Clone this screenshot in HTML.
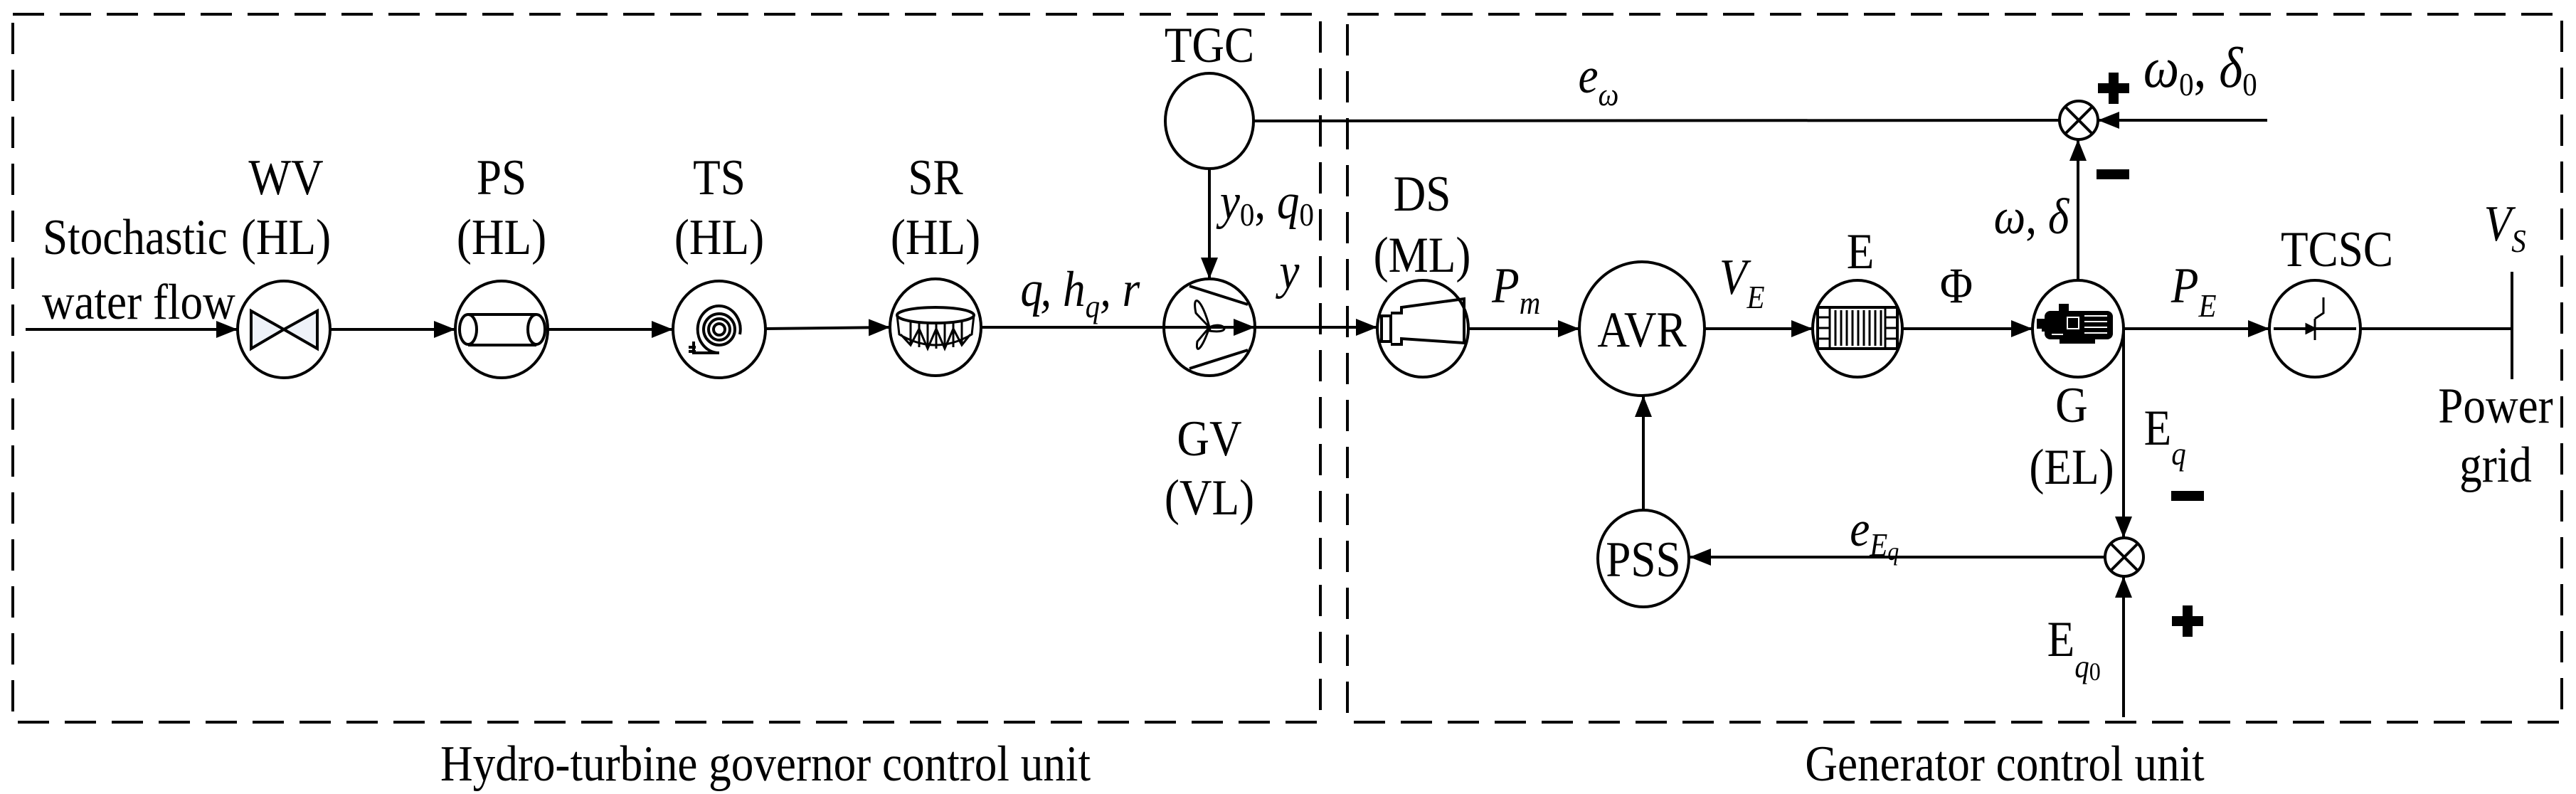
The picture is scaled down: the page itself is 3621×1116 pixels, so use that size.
<!DOCTYPE html>
<html><head><meta charset="utf-8">
<style>
html,body{margin:0;padding:0;background:#fff;}
svg{display:block;font-family:"Liberation Serif","Times New Roman","DejaVu Serif",serif;}
text{font-family:"Liberation Serif","Times New Roman","DejaVu Serif",serif;font-size:71px;fill:#000;transform-box:fill-box;transform-origin:center;transform:scaleX(0.89);}
.i{font-style:italic;}
.s{font-size:46px;}
.ss{font-size:36px;}
</style></head><body>
<svg width="3621" height="1116" viewBox="0 0 3621 1116" xmlns="http://www.w3.org/2000/svg" font-family="Liberation Serif, Times New Roman, serif">
<defs>
<marker id="a" viewBox="0 0 30 24" refX="30" refY="12" markerWidth="30" markerHeight="24" markerUnits="userSpaceOnUse" orient="auto"><path d="M0,0 L30,12 L0,24 Z" fill="#000"/></marker>
</defs>
<g fill="none" stroke="#000" stroke-width="4">
<rect x="18" y="20" width="1838" height="995" stroke-dasharray="44,22"/>
<rect x="1894" y="20" width="1707" height="995" stroke-dasharray="44,22"/>
<ellipse cx="399" cy="463" rx="65" ry="68"/>
<ellipse cx="705" cy="463" rx="65" ry="68"/>
<ellipse cx="1011" cy="463" rx="65" ry="68"/>
<ellipse cx="1315" cy="460" rx="64" ry="68"/>
<ellipse cx="1700" cy="460" rx="64" ry="68"/>
<ellipse cx="1700" cy="170" rx="62" ry="67"/>
<ellipse cx="2000" cy="462" rx="64" ry="68"/>
<ellipse cx="2308" cy="462" rx="88" ry="94"/>
<ellipse cx="2611" cy="462" rx="63" ry="68"/>
<ellipse cx="2921" cy="462" rx="64" ry="68"/>
<ellipse cx="3254" cy="462" rx="64" ry="68"/>
<ellipse cx="2310" cy="785" rx="64" ry="68"/>
<circle cx="2922" cy="169" r="27"/>
<path d="M2903,150 L2941,188 M2941,150 L2903,188"/>
<circle cx="2986" cy="783" r="27"/>
<path d="M2967,764 L3005,802 M3005,764 L2967,802"/>
<line x1="36" y1="463" x2="334" y2="463" marker-end="url(#a)"/>
<line x1="464" y1="463" x2="640" y2="463" marker-end="url(#a)"/>
<line x1="770" y1="463" x2="946" y2="463" marker-end="url(#a)"/>
<line x1="1076" y1="462" x2="1251" y2="460" marker-end="url(#a)"/>
<line x1="1379" y1="460" x2="1764" y2="460" marker-end="url(#a)"/>
<line x1="1764" y1="460" x2="1936" y2="460" marker-end="url(#a)"/>
<line x1="2064" y1="462" x2="2220" y2="462" marker-end="url(#a)"/>
<line x1="2396" y1="462" x2="2548" y2="462" marker-end="url(#a)"/>
<line x1="2674" y1="462" x2="2857" y2="462" marker-end="url(#a)"/>
<line x1="2985" y1="462" x2="3190" y2="462" marker-end="url(#a)"/>
<line x1="3318" y1="462" x2="3531" y2="462"/>
<line x1="3531" y1="382" x2="3531" y2="533"/>
<line x1="1700" y1="237" x2="1700" y2="392" marker-end="url(#a)"/>
<line x1="1762" y1="170" x2="2895" y2="169"/>
<line x1="3187" y1="169" x2="2949" y2="169" marker-end="url(#a)"/>
<line x1="2921" y1="394" x2="2921" y2="196" marker-end="url(#a)"/>
<line x1="2985" y1="462" x2="2985" y2="756" marker-end="url(#a)"/>
<line x1="2985" y1="1008" x2="2985" y2="810" marker-end="url(#a)"/>
<line x1="2959" y1="783" x2="2375" y2="783" marker-end="url(#a)"/>
<line x1="2310" y1="717" x2="2310" y2="556" marker-end="url(#a)"/>
<path d="M353,437 L353,490 L399,463 Z M446,437 L446,490 L399,463 Z" fill="#eef2f8"/>
<path d="M658,442 L754,442 M658,485 L754,485"/>
<ellipse cx="658" cy="463" rx="12" ry="21"/>
<ellipse cx="754" cy="463" rx="12" ry="21"/>
<circle cx="1011" cy="463" r="8"/>
<circle cx="1011" cy="463" r="15"/>
<circle cx="1011" cy="463" r="22"/>
<path d="M1011,496 A30,33 0 1 1 1040,470" />
<path d="M1011,496 L975,496 L975,480 M968,488 L978,488 M968,494 L978,494"/>
<ellipse cx="1315" cy="443" rx="54" ry="11"/>
<path d="M1261,443 L1264,470 Q1315,500 1366,470 L1369,443 M1266,470 L1280,485 L1292,462 L1304,490 L1316,462 L1328,490 L1340,462 L1352,485 L1364,470 M1280,452 L1280,485 M1292,452 L1292,488 M1304,453 L1304,490 M1316,453 L1316,490 M1328,453 L1328,490 M1340,453 L1340,488 M1352,452 L1352,485" stroke-width="3"/>
<path d="M1672,402 L1754,428 M1672,518 L1754,492" />
<path d="M1700,460 C1690,420 1675,410 1681,440 Z M1700,460 C1720,450 1735,470 1700,465 Z M1700,460 C1690,490 1680,500 1683,480 Z" stroke-width="3"/>
<path d="M1942,444 L1942,480 L1955,480 L1955,444 Z M1955,440 L1970,440 L1970,432 L2058,420 L2058,482 L1970,476 L1970,484 L1955,484" stroke-width="4"/>
<rect x="2555" y="432" width="112" height="58"/>
<path d="M2572,432 L2572,490 M2650,432 L2650,490 M2580,436 L2580,486 M2588,436 L2588,486 M2596,436 L2596,486 M2604,436 L2604,486 M2612,436 L2612,486 M2620,436 L2620,486 M2628,436 L2628,486 M2636,436 L2636,486 M2644,436 L2644,486 M2555,446 L2572,446 M2555,461 L2572,461 M2555,476 L2572,476 M2650,446 L2667,446 M2650,461 L2667,461 M2650,476 L2667,476" stroke-width="3"/>
<path d="M3196,462 L3312,462"/>
<path d="M3254,448 L3254,478 M3242,456 L3242,468 L3254,462 Z" fill="#000" stroke-width="3"/>
<path d="M3254,448 L3266,440 L3266,418" stroke-width="3"/>
</g>
<g fill="#000">
<rect x="2894" y="427" width="14" height="12"/>
<rect x="2874" y="437" width="96" height="40" rx="8"/>
<rect x="2863" y="448" width="12" height="14"/>
<rect x="2895" y="476" width="50" height="7"/>
<rect x="2870" y="462" width="6" height="4"/>
</g>
<g fill="none" stroke="#fff" stroke-width="2">
<rect x="2906" y="446" width="16" height="16"/>
<path d="M2930,444 L2962,444 M2930,452 L2962,452 M2930,460 L2962,460 M2930,468 L2962,468 M2884,470 L2900,470"/>
</g>
<g fill="#000">
<rect x="2949" y="117" width="44" height="14"/><rect x="2964" y="102" width="14" height="44"/>
<rect x="2947" y="238" width="46" height="14"/>
<rect x="3052" y="690" width="46" height="14"/>
<rect x="3053" y="866" width="44" height="14"/><rect x="3068" y="851" width="14" height="44"/>
</g>
<g text-anchor="middle">
<text x="402" y="273">WV</text><text x="402" y="357">(HL)</text>
<text x="705" y="273">PS</text><text x="705" y="357">(HL)</text>
<text x="1011" y="273">TS</text><text x="1011" y="357">(HL)</text>
<text x="1315" y="273">SR</text><text x="1315" y="357">(HL)</text>
<text x="1700" y="87">TGC</text>
<text x="1700" y="640">GV</text><text x="1700" y="723">(VL)</text>
<text x="1999" y="296">DS</text><text x="1999" y="382">(ML)</text>
<text x="2308" y="487">AVR</text>
<text x="2615" y="377">E</text>
<text x="2750" y="425">Φ</text>
<text x="2912" y="593">G</text><text x="2912" y="680">(EL)</text>
<text x="3285" y="374">TCSC</text>
<text x="3508" y="594">Power</text><text x="3508" y="677">grid</text>
<text x="2310" y="810">PSS</text>
<text x="1076" y="1097">Hydro-turbine governor control unit</text>
<text x="2818" y="1097">Generator control unit</text>
</g>
<text x="44" y="357">Stochastic</text>
<text x="42" y="448">water flow</text>
<text x="1424" y="430" class="i">q<tspan dx="-4">,</tspan> h<tspan class="s" dy="16">q</tspan><tspan dy="-16">, r</tspan></text>
<text x="1797" y="405" class="i">y</text>
<text x="1707" y="307" class="i">y<tspan class="s" dy="10" font-style="normal">0</tspan><tspan dy="-10" font-style="normal">, </tspan>q<tspan class="s" dy="10" font-style="normal">0</tspan></text>
<text x="2093" y="425" class="i">P<tspan class="s" dy="16">m</tspan></text>
<text x="2413" y="413" class="i">V<tspan class="s" dy="20">E</tspan></text>
<text x="2215" y="130" class="i">e<tspan class="s" dy="18">ω</tspan></text>
<text x="3003" y="122" class="i" style="font-size:80px">ω<tspan class="s" dy="12" font-style="normal">0</tspan><tspan dy="-12" font-style="normal">, </tspan>δ<tspan class="s" dy="12" font-style="normal">0</tspan></text>
<text x="2796" y="328" class="i">ω<tspan font-style="normal">, </tspan>δ</text>
<text x="3048" y="425" class="i">P<tspan class="s" dy="20">E</tspan></text>
<text x="3488" y="338" class="i">V<tspan class="s" dy="16">S</tspan></text>
<text x="3010" y="625">E<tspan class="s" dy="28" font-style="italic">q</tspan></text>
<text x="2873" y="922">E<tspan class="s" dy="30" font-style="italic">q</tspan><tspan class="ss" dy="4">0</tspan></text>
<text x="2596" y="767" class="i">e<tspan class="s" dy="14">E</tspan><tspan class="ss" dy="6">q</tspan></text>
</svg>
</body></html>
